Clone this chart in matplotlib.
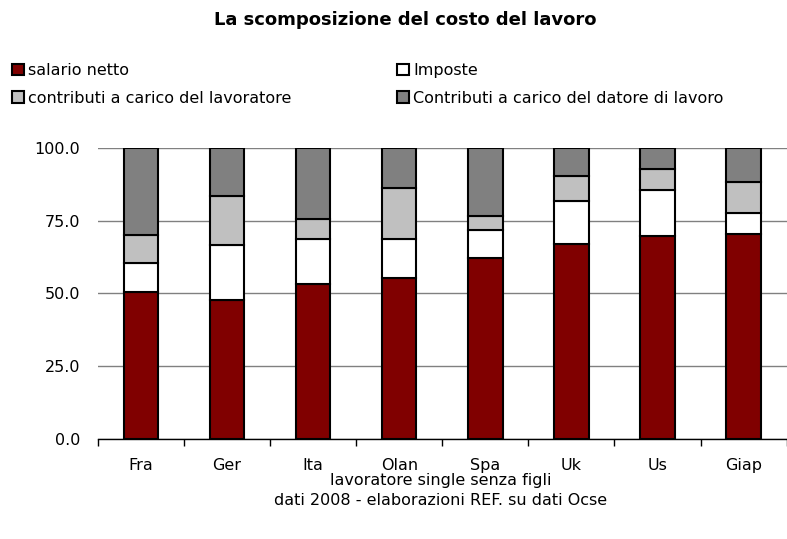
import numpy as np
import matplotlib
matplotlib.use("Agg")
import matplotlib.pyplot as plt

plt.rcParams['font.family'] = ['DejaVu Sans']

paesi = ["Fra", "Ger", "Ita", "Olan", "Spa", "Uk", "Us", "Giap"]
# quote percentuali
salario_netto = [50.6, 47.7, 53.3, 55.1, 62.2, 67.0, 69.8, 70.5]
imposte = [9.9, 18.8, 15.2, 13.5, 9.6, 14.8, 15.8, 7.1]
contrib_lavoratore = [9.5, 17.0, 7.0, 17.4, 4.9, 8.5, 7.2, 10.7]
contrib_datore = [30.0, 16.5, 24.5, 14.0, 23.3, 9.7, 7.2, 11.7]

serie = [
    ("salario netto", salario_netto, "#800000"),
    ("Imposte", imposte, "#ffffff"),
    ("contributi a carico del lavoratore", contrib_lavoratore, "#c0c0c0"),
    ("Contributi a carico del datore di lavoro", contrib_datore, "#808080"),
]

fig = plt.figure(figsize=(7.87, 5.39), dpi=100)
ax = fig.add_axes([0.1245, 0.1855, 0.875, 0.5405])

x = np.arange(len(paesi))
bottom = np.zeros(len(paesi))
handles = {}
for nome, valori, colore in serie:
    b = ax.bar(x, valori, 0.4, bottom=bottom, color=colore, edgecolor="black",
               linewidth=1.5, label=nome, zorder=3)
    handles[nome] = b
    bottom += np.array(valori)

ax.set_xlim(-0.5, len(paesi) - 0.5)
ax.set_ylim(0, 100)
ax.set_yticks([0, 25, 50, 75, 100])
ax.set_yticklabels([f"{v:.1f}" for v in [0, 25, 50, 75, 100]], fontsize=11.5)
ax.tick_params(axis="y", length=0, pad=13)
ax.set_xticks(x)
ax.set_xticklabels(paesi, fontsize=11.5)
ax.set_xticks(np.arange(-0.5, len(paesi)), minor=True)
ax.tick_params(axis="x", which="major", length=0, pad=14)
ax.tick_params(axis="x", which="minor", length=5, width=1, color="black", direction="out")
ax.yaxis.grid(True, color="#808080", linewidth=1, zorder=0)
for s in ["left", "right", "top"]:
    ax.spines[s].set_visible(False)
ax.spines["bottom"].set_color("black")
ax.spines["bottom"].set_linewidth(1)

fig.text(0.515, 0.962, "La scomposizione del costo del lavoro", ha="center", va="center",
         fontsize=13, fontweight="bold")

colonne = [
    (["salario netto", "contributi a carico del lavoratore"], 0.015),
    (["Imposte", "Contributi a carico del datore di lavoro"], 0.505),
]
for nomi, xpos in colonne:
    leg = fig.legend([handles[n] for n in nomi], nomi, loc="upper left",
                     bbox_to_anchor=(xpos, 0.883), frameon=False, fontsize=11.5,
                     handlelength=0.75, handleheight=0.75, handletextpad=0.25,
                     labelspacing=0.8, borderaxespad=0, borderpad=0)

fig.text(0.56, 0.109, "lavoratore single senza figli", ha="center", va="center", fontsize=11.5)
fig.text(0.56, 0.072, "dati 2008 - elaborazioni REF. su dati Ocse", ha="center", va="center",
         fontsize=11.5)

fig.savefig("out.png", dpi=100)
